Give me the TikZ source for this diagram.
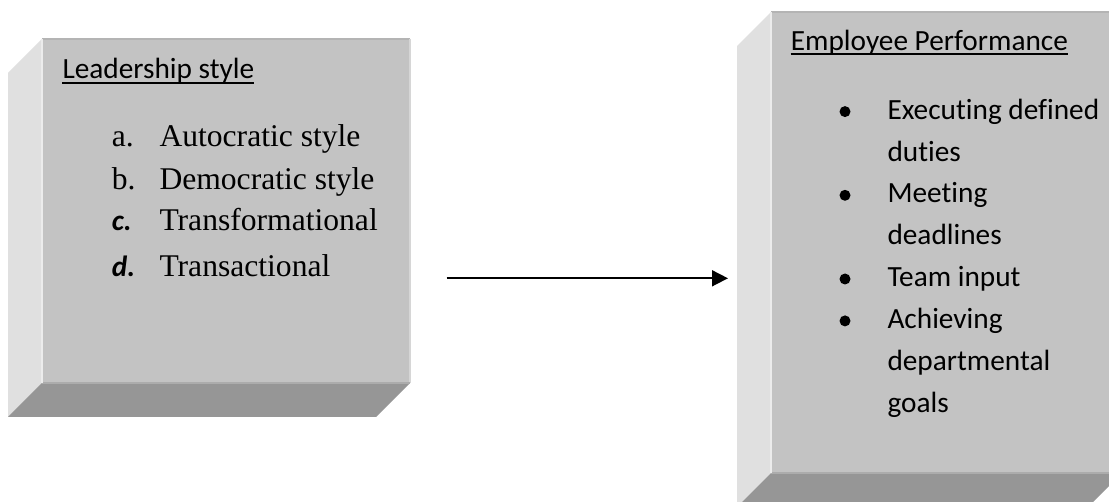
\documentclass[tikz,border=0pt]{standalone}
\usepackage{fontspec}
\usetikzlibrary{arrows.meta,calc}
\newfontfamily\calfont[Ligatures={NoCommon}]{Carlito}
\newfontfamily\timesfont{Liberation Serif}

\definecolor{slabfront}{RGB}{195,195,195}
\definecolor{slableft}{RGB}{224,224,224}
\definecolor{slabbottom}{RGB}{150,150,150}
\definecolor{edgetop}{RGB}{180,180,180}
\definecolor{edgeright}{RGB}{214,214,214}
\definecolor{edgebottom}{RGB}{172,172,172}
\definecolor{edgeleft}{RGB}{236,236,236}

\tikzset{
  heading/.style={inner sep=0pt, anchor=base west, font=\calfont\fontsize{29.3}{35}\selectfont},
  bodytext/.style={inner sep=0pt, anchor=base west, font=\calfont\fontsize{29.3}{35}\selectfont},
  listtext/.style={inner sep=0pt, anchor=base west, font=\timesfont\fontsize{31.6}{38}\selectfont},
  listmark/.style={inner sep=0pt, anchor=base west, font=\timesfont\fontsize{31.6}{38}\selectfont},
  boldmark/.style={inner sep=0pt, anchor=base west, font=\calfont\bfseries\itshape\fontsize{29.3}{35}\selectfont},
  underline/.style={line width=1.7pt, black},
  bulletdot/.style={circle, fill=black, inner sep=0pt, minimum size=11pt},
  connector/.style={line width=1.7pt, -{Triangle[length=16pt,width=16pt]}},
}

% a slab with its depth shown on the left and the bottom
% #1 = front top-left corner, #2 = front bottom-right corner
\newcommand\drawslab[2]{%
  \coordinate (s-a) at (#1);
  \coordinate (s-b) at (#2);
  \fill[slableft] (s-a) -- ++(-34,34) -- ($(s-a |- s-b)+(-34,34)$) -- (s-a |- s-b) -- cycle;
  \fill[slabbottom] (s-a |- s-b) -- ++(-34,34) -- ($(s-b)+(-34,34)$) -- (s-b) -- cycle;
  \fill[slabfront] (s-a) rectangle (s-b);
  \draw[edgetop, line width=1.5pt] (s-a) -- (s-a -| s-b);
  \draw[edgeright, line width=1.5pt] (s-a -| s-b) -- (s-b);
  \draw[edgebottom, line width=1.5pt] (s-a |- s-b) -- (s-b);
  \draw[edgeleft, line width=1.5pt] (s-a) -- (s-a |- s-b);
}

\begin{document}
\begin{tikzpicture}[x=1pt, y=-1pt]
\useasboundingbox (0,0) rectangle (1109,502);
\clip (0,0) rectangle (1109,502);
\fill[white] (0,0) rectangle (1109,502);

% left slab: leadership styles
\drawslab{42,39}{410,383}
\node[heading] (lhead) at (62.3,78.3) {Leadership style};
\draw[underline] ([yshift=-4.5pt]lhead.base west) -- ([yshift=-4.5pt]lhead.base east);

\node[listmark] (ma) at (111.7,146.7) {a.};
\node[listtext] (ta) at (159.3,146.7) {Autocratic style};
\node[listmark] (mb) at (111.7,189.3) {b.};
\node[listtext] (tb) at (159.3,189.3) {Democratic style};
\node[boldmark] (mc) at (111.7,231) {c.};
\node[listtext] (tc) at (159.3,231) {Transformational};
\node[boldmark] (md) at (111.7,276.7) {d.};
\node[listtext] (td) at (159.3,276.7) {Transactional};

% right slab: employee performance
\drawslab{771,12}{1122,473}
\node[heading] (rhead) at (790.7,50.7) {Employee Performance};
\draw[underline] ([yshift=-3.3pt]rhead.base west) -- ([yshift=-3.3pt]rhead.base east);

\node[bulletdot] (b1) at (845,111.6) {};
\node[bodytext] (p1a) at (887.3,119.3) {Executing defined};
\node[bodytext] (p1b) at (887.3,161.2) {duties};
\node[bulletdot] (b2) at (845,195.3) {};
\node[bodytext] (p2a) at (887.3,203) {Meeting};
\node[bodytext] (p2b) at (887.3,244.9) {deadlines};
\node[bulletdot] (b3) at (845,279) {};
\node[bodytext] (p3) at (887.3,286.7) {Team input};
\node[bulletdot] (b4) at (845,320.9) {};
\node[bodytext] (p4a) at (887.3,328.6) {Achieving};
\node[bodytext] (p4b) at (887.3,370.4) {departmental};
\node[bodytext] (p4c) at (887.3,412.3) {goals};

% link between the two slabs
\coordinate (linkstart) at (446.7,278.3);
\coordinate (linkend) at (728,278.3);
\draw[connector] (linkstart) -- (linkend);
\end{tikzpicture}
\end{document}
